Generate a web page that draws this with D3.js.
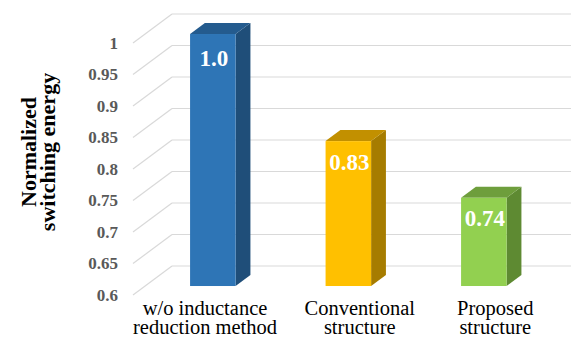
<!DOCTYPE html>
<html>
<head>
<meta charset="utf-8">
<script src="https://cdn.jsdelivr.net/npm/d3@7/dist/d3.min.js"></script>
<style>
  html, body { margin: 0; padding: 0; background: #ffffff; }
  svg { display: block; }
  svg text { font-family: "Liberation Serif", "DejaVu Serif", serif; }
</style>
</head>
<body>
<svg id="chart" width="571" height="338"></svg>
<script>
// Category names (each split into the two lines shown under the axis)
const categories = ["w/o inductance reduction method", "Conventional structure", "Proposed structure"];
const categoryLines = [["w/o inductance", "reduction method"], ["Conventional", "structure"], ["Proposed", "structure"]];
// Normalized switching energy per structure
const values = [1.0, 0.83, 0.74];
const valueLabels = ["1.0", "0.83", "0.74"];
// Vertical axis ticks
const tickValues = [0.6, 0.65, 0.7, 0.75, 0.8, 0.85, 0.9, 0.95, 1.0];
const tickLabels = ["0.6", "0.65", "0.7", "0.75", "0.8", "0.85", "0.9", "0.95", "1"];
// Face colours of each column: front, side, top
const frontColors = ["#2E75B6", "#FFC000", "#92D050"];
const sideColors  = ["#1F4E79", "#A67C00", "#5E8A32"];
const topColors   = ["#245B8E", "#C29000", "#6E9E3C"];

const svg = d3.select("#chart");

// Front plane of the 3-D plot area and the depth vector to its back wall
const left = 133, right = 539.5;
const depth = { dx: 39, dy: -29 };
const y = d3.scaleLinear().domain([0.6, 1.0]).range([295, 43]);
const x = d3.scaleBand().domain(categories).range([left, right]).padding(0);
const barFrac = 0.336;             // column width as a share of the category slot
const zFront = 0.31, zBack = 0.69; // column depth inside the floor
// Positions of the value labels drawn on the column faces
const labelY = d3.scaleLinear().domain([0.6, 1.0]).range([312.1, 65.7]);

// Gridlines: diagonal along the side wall, then across the back wall
const grid = svg.append("g");
tickValues.forEach(v => {
  const yf = y(v), yb = y(v) + depth.dy, xb = left + depth.dx;
  grid.append("line")
    .attr("x1", left).attr("y1", yf).attr("x2", xb).attr("y2", yb)
    .attr("stroke", "#d9d9d9").attr("stroke-width", 1.2);
  grid.append("line")
    .attr("x1", xb).attr("y1", yb).attr("x2", 571).attr("y2", yb)
    .attr("stroke", "#d9d9d9").attr("stroke-width", 1.2);
});

// Vertical axis labels
const yAxis = d3.axisLeft(y)
  .tickValues(tickValues)
  .tickFormat((d, i) => tickLabels[i])
  .tickSize(0)
  .tickPadding(15);
const ag = svg.append("g").attr("transform", `translate(${left},0)`).call(yAxis);
ag.select(".domain").remove();
ag.attr("font-family", null);
ag.selectAll("text")
  .style("font-size", "17px")
  .style("font-weight", "bold")
  .attr("fill", "#595959");

// Columns
const bars = svg.append("g");
categories.forEach((c, i) => {
  const bw = x.bandwidth() * barFrac;
  const x0 = x(c) + (x.bandwidth() - bw) / 2 + depth.dx * zFront;
  const x1 = x0 + bw;
  const yTop = y(values[i]) + depth.dy * zFront;
  const yBot = y(0.6) + depth.dy * zFront;
  const ddx = depth.dx * (zBack - zFront), ddy = depth.dy * (zBack - zFront);
  // side face
  bars.append("path")
    .attr("d", `M${x1},${yTop}L${x1 + ddx},${yTop + ddy}L${x1 + ddx},${yBot + ddy}L${x1},${yBot}Z`)
    .attr("fill", sideColors[i]);
  // top face
  bars.append("path")
    .attr("d", `M${x0},${yTop}L${x0 + ddx},${yTop + ddy}L${x1 + ddx},${yTop + ddy}L${x1},${yTop}Z`)
    .attr("fill", topColors[i]);
  // front face
  bars.append("rect")
    .attr("x", x0).attr("y", yTop)
    .attr("width", bw).attr("height", yBot - yTop)
    .attr("fill", frontColors[i]);
  // value label
  bars.append("text")
    .attr("x", (x0 + x1) / 2 + 1)
    .attr("y", labelY(values[i]))
    .attr("text-anchor", "middle")
    .style("font-size", "23px")
    .style("font-weight", "bold")
    .attr("fill", "#ffffff")
    .text(valueLabels[i]);
});

// Category labels, centred under each slot at mid depth;
// the first block is pushed flush with the plot's left edge
const cat = svg.append("g");
categories.forEach((c, i) => {
  const cx = x(c) + x.bandwidth() / 2 + depth.dx * 0.5 + 4;
  const t = cat.append("text")
    .style("font-size", "20.5px")
    .attr("fill", "#000000")
    .attr("text-anchor", "middle");
  categoryLines[i].forEach((line, j) => {
    t.append("tspan").attr("x", cx).attr("y", 315 + j * 18.5).text(line);
  });
  if (i === 0) {
    const w = t.node().getBBox().width;
    t.selectAll("tspan").attr("x", left + w / 2);
  }
});

// Vertical axis title
svg.append("text")
  .attr("transform", "translate(35.5,152) rotate(-90)")
  .attr("text-anchor", "middle")
  .style("font-size", "22px")
  .style("font-weight", "bold")
  .attr("fill", "#000000")
  .call(t => {
    t.append("tspan").attr("x", 0).attr("y", 0).text("Normalized");
    t.append("tspan").attr("x", 0).attr("y", 19.5).text("switching energy");
  });
</script>
</body>
</html>
